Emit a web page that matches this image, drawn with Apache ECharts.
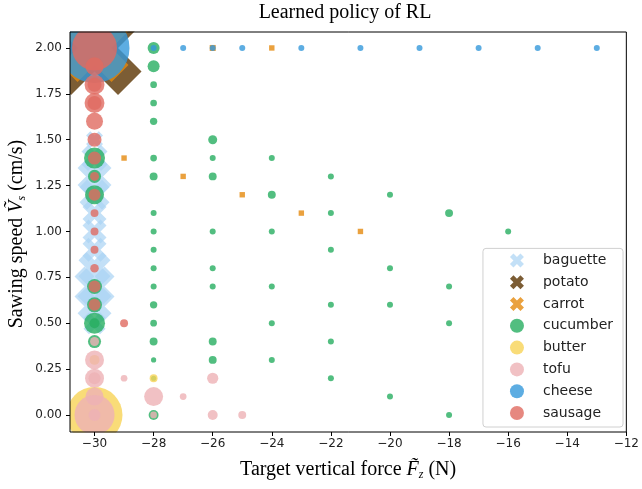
<!DOCTYPE html>
<html><head><meta charset="utf-8">
<script src="https://cdn.jsdelivr.net/npm/echarts@6/dist/echarts.min.js"></script>
<style>html,body{margin:0;padding:0;background:#fff}#c{width:642px;height:489px}</style>
</head><body><div id="c"></div>
<script>
// ---- data: [target force (N), sawing speed (cm/s), frequency weight] ----
const xTicks = [-30, -28, -26, -24, -22, -20, -18, -16, -14, -12];
const yTicks = [0, 0.25, 0.5, 0.75, 1.0, 1.25, 1.5, 1.75, 2.0];
const foodNames = ['baguette', 'potato', 'carrot', 'cucumber', 'butter', 'tofu', 'cheese', 'sausage'];

const baguette = [[-30,1.5,32],[-30,1.4,75],[-30,1.3,128],[-30,1.2,100],[-30,1.1,64],[-30,1.0,64],
  [-30,0.9,64],[-30,0.8,114],[-30,0.7,178],[-30,0.6,128],[-30,0.5,54]];
const potato = [[-30,2.0,982]];
const carrot = [[-30,2.0,514],[-29,1.4,4],[-27,1.3,4],[-26,2.0,5],[-25,1.2,4],[-24,2.0,4],[-23,1.1,4],[-21,1.0,4]];
const cucumber = [[-30,1.4,49],[-30,1.3,19],[-30,1.2,40],[-30,0.7,25],[-30,0.6,25],[-30,0.5,49],[-30,0.5,11],[-30,0.4,19],
  [-28,2.0,16],[-28,1.9,16],[-28,1.8,5],[-28,1.7,5],[-28,1.6,6],[-28,1.4,5],[-28,1.3,7],[-28,1.1,4],[-28,1.0,4],
  [-28,0.9,4],[-28,0.8,4],[-28,0.7,4],[-28,0.6,6],[-28,0.5,5],[-28,0.4,7],[-28,0.3,3],[-28,0.2,3],[-28,0.0,11],
  [-26,1.5,9],[-26,1.4,4],[-26,1.3,7],[-26,1.0,4],[-26,0.8,4],[-26,0.7,4],[-26,0.4,7],[-26,0.3,7],
  [-24,1.4,4],[-24,1.2,7],[-24,1.0,4],[-24,0.7,4],[-24,0.5,4],[-24,0.3,4],
  [-22,1.3,4],[-22,1.1,4],[-22,0.9,4],[-22,0.6,4],[-22,0.4,4],[-22,0.2,4],
  [-20,1.2,4],[-20,0.8,4],[-20,0.6,4],[-20,0.1,4],
  [-18,1.1,7],[-18,0.7,4],[-18,0.5,4],[-18,0.0,4],
  [-16,1.0,4]];
const butter = [[-30,0.0,348],[-30,0.3,11],[-28,0.2,7]];
const tofu = [[-30,0.4,9],[-30,0.3,40],[-30,0.2,40],[-30,0.2,16],[-30,0.1,36],[-30,0.0,178],[-30,0.0,16],
  [-29,0.2,5],[-28,0.1,40],[-28,0.0,5],[-27,0.1,5],[-26,0.2,14],[-26,0.0,11],[-25,0.0,7]];
const cheese = [[-30,2.0,544],[-28,2.0,4],[-27,2.0,4],[-26,2.0,4],[-25,2.0,4],[-23,2.0,4],[-21,2.0,4],
  [-19,2.0,4],[-17,2.0,4],[-15,2.0,4],[-13,2.0,4]];
const sausage = [[-30,2.0,225],[-30,1.9,36],[-30,1.8,44],[-30,1.8,22],[-30,1.7,44],[-30,1.7,22],[-30,1.6,32],
  [-30,1.5,22],[-30,1.4,19],[-30,1.3,9],[-30,1.2,16],[-30,1.1,7],[-30,1.0,7],[-30,0.9,7],[-30,0.8,8],
  [-30,0.7,16],[-30,0.6,16],[-29,0.5,7]];

// ---- styling ----
const X_PATH = 'path://M6 0L8 2L6 4L8 6L6 8L4 6L2 8L0 6L2 4L0 2L2 0L4 2Z';
const seriesData = {baguette, potato, carrot, cucumber, butter, tofu, cheese, sausage};
const colors = {baguette:'#a9d3f3', potato:'#5b3503', carrot:'#e58a0e', cucumber:'#27ae60',
  butter:'#f7d356', tofu:'#eeb2b5', cheese:'#3498db', sausage:'#e06a60'};
const opac = {baguette:0.7, potato:0.8, carrot:0.8, cucumber:0.8, butter:0.8, tofu:0.8, cheese:0.8, sausage:0.8};
const xShaped = {baguette:true, potato:true, carrot:true};
const minus = v => (v < 0 ? '\u2212' : '') + Math.abs(v);
const serif = '"Liberation Serif", "DejaVu Serif", serif';
const sizeOf = v => 3 * Math.sqrt(v[2]);

const chart = echarts.init(document.getElementById('c'), null, {renderer: 'canvas'});
chart.setOption({
  animation: false,
  backgroundColor: '#fff',
  grid: {left: 70, top: 32, width: 558, height: 400, show: true, borderColor: '#000', borderWidth: 1,
    backgroundColor: 'transparent', z: 60, containLabel: false},
  xAxis: {
    type: 'value', min: -30.83, max: -12, z: 70,
    axisLine: {show: false, onZero: false},
    axisTick: {show: true, length: 4, customValues: xTicks, lineStyle: {color: '#000'}},
    axisLabel: {customValues: xTicks, formatter: minus, fontFamily: 'DejaVu Sans', fontSize: 12, color: '#222', margin: 6},
    splitLine: {show: false},
    name: 'Target vertical force {it|F\u0303}{sub|z} (N)',
    nameLocation: 'middle', nameGap: 27,
    nameTextStyle: {fontFamily: serif, fontSize: 20, color: '#000',
      rich: {it: {fontFamily: serif, fontStyle: 'italic', fontSize: 20, color: '#000'},
             sub: {fontFamily: serif, fontStyle: 'italic', fontSize: 12, color: '#000', padding: [10, 0, 0, 0]}}}
  },
  yAxis: {
    type: 'value', min: -0.093, max: 2.087, z: 70,
    axisLine: {show: false, onZero: false},
    axisTick: {show: true, length: 4, customValues: yTicks, lineStyle: {color: '#000'}},
    axisLabel: {customValues: yTicks, formatter: v => v.toFixed(2), fontFamily: 'DejaVu Sans', fontSize: 12, color: '#222', margin: 8},
    splitLine: {show: false}
  },
  legend: {
    orient: 'vertical', right: 19, bottom: 62, align: 'left',
    padding: [5, 10, 7, 27], itemGap: 7.8, itemWidth: 14, itemHeight: 14,
    backgroundColor: 'rgba(255,255,255,0.8)', borderColor: '#d0d0d0', borderWidth: 1, borderRadius: 3,
    textStyle: {fontFamily: 'DejaVu Sans', fontSize: 14, color: '#222', rich: {g: {width: 14}}},
    formatter: n => '{g|}' + n,
    data: foodNames.map(n => ({name: n, icon: xShaped[n] ? X_PATH : 'circle'}))
  },
  graphic: [
    {type: 'rect', shape: {x: 0, y: 0, width: 250, height: 31.5}, style: {fill: '#fff'}, z: 50, silent: true},
    {type: 'rect', shape: {x: 0, y: 0, width: 70, height: 489}, style: {fill: '#fff'}, z: 50, silent: true},
    {type: 'rect', shape: {x: 0, y: 432.5, width: 300, height: 57}, style: {fill: '#fff'}, z: 50, silent: true},
    {type: 'text', x: 345, y: 13, z: 80, silent: true,
      style: {text: 'Learned policy of RL', font: '20px ' + serif, fill: '#000', align: 'center', verticalAlign: 'middle'}},
    {type: 'text', x: 17, y: 234, rotation: Math.PI / 2, z: 80, silent: true,
      style: {text: 'Sawing speed {it|V\u0303}{sub|s} (cm/s)', fontFamily: serif, fontSize: 20, fill: '#000',
        align: 'center', verticalAlign: 'middle',
        rich: {it: {fontFamily: serif, fontStyle: 'italic', fontSize: 20, fill: '#000'},
               sub: {fontFamily: serif, fontStyle: 'italic', fontSize: 12, fill: '#000', padding: [10, 0, 0, 0]}}}}
  ],
  series: foodNames.map(n => ({
    name: n, type: 'scatter', data: seriesData[n],
    // tiny filled X markers render as small squares in the reference
    symbol: xShaped[n] ? (v => sizeOf(v) < 10 ? 'rect' : X_PATH) : 'circle',
    symbolSize: v => xShaped[n] && sizeOf(v) < 10 ? sizeOf(v) * 0.9 : sizeOf(v),
    itemStyle: {color: colors[n], opacity: opac[n]},
    emphasis: {disabled: true}
  }))
});
</script></body></html>
